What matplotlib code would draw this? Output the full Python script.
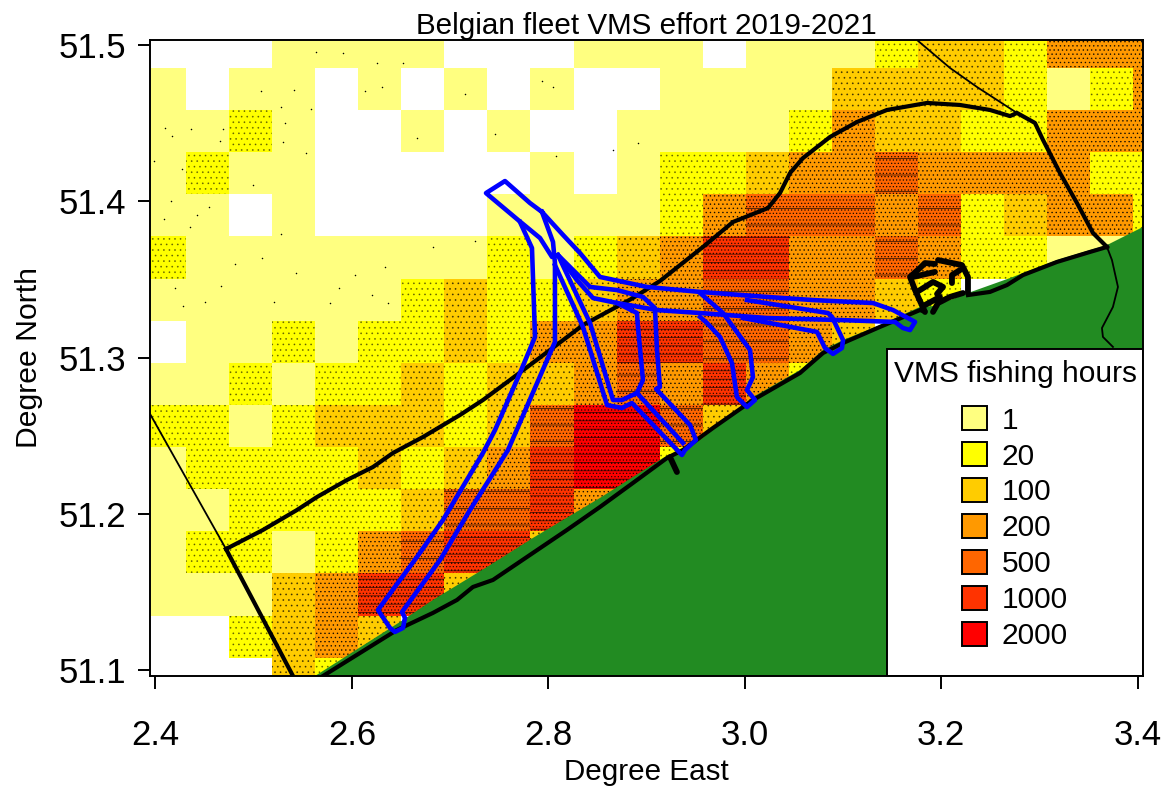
import matplotlib
matplotlib.use('Agg')
import matplotlib.pyplot as plt
from matplotlib.patches import Patch, Rectangle
import numpy as np

plt.rcParams['font.family'] = ['Liberation Sans', 'DejaVu Sans']
plt.rcParams['hatch.linewidth'] = 0.5

# effort class per grid cell, north to south: 0 none, 1..7 = legend classes
effort = [
    [0,0,0,1,1,1,1,0,0,0,1,1,1,0,1,1,1,2,3,3,2,4,4,4],
    [1,0,1,1,0,1,0,1,0,1,0,0,1,1,1,1,3,3,3,3,2,1,2,4],
    [1,1,2,1,0,0,1,0,1,0,0,1,1,1,1,2,4,3,3,2,2,4,4,4],
    [1,2,1,1,0,0,0,0,0,1,0,1,2,2,3,4,4,5,4,4,4,4,2,2],
    [1,1,0,1,0,0,0,0,1,1,1,1,2,4,5,5,5,4,5,2,3,4,4,2],
    [2,1,1,1,1,1,1,1,2,1,2,3,4,6,6,4,4,5,4,2,2,1,1,1],
    [1,1,1,1,1,1,2,3,2,2,3,4,4,5,5,4,4,3,2,0,0,0,0,0],
    [0,1,1,2,1,2,2,3,2,4,4,6,6,5,5,4,3,0,0,0,0,0,0,0],
    [1,1,2,1,2,2,3,2,3,3,4,5,4,6,4,2,0,0,0,0,0,0,0,0],
    [2,2,1,2,3,3,3,2,3,5,7,7,5,3,0,0,0,0,0,0,0,0,0,0],
    [1,2,2,2,2,3,2,3,4,6,7,7,2,0,0,0,0,0,0,0,0,0,0,0],
    [1,1,2,2,2,2,3,5,5,6,4,0,0,0,0,0,0,0,0,0,0,0,0,0],
    [1,2,2,1,2,4,5,6,6,3,0,0,0,0,0,0,0,0,0,0,0,0,0,0],
    [1,1,1,3,4,6,6,3,0,0,0,0,0,0,0,0,0,0,0,0,0,0,0,0],
    [0,0,2,3,4,3,0,0,0,0,0,0,0,0,0,0,0,0,0,0,0,0,0,0],
    [0,0,0,3,2,0,0,0,0,0,0,0,0,0,0,0,0,0,0,0,0,0,0,0],
]
legend_labels = ['1', '20', '100', '200', '500', '1000', '2000']
legend_colors = ['#FFFF80', '#FFFF00', '#FFCC00', '#FF9900', '#FF6600', '#FF3300', '#FF0000']

# land outline (north edge of the coast)
land_lon = [2.5624,2.6489,2.6825,2.7375,2.7843,2.8525,2.9167,2.9544,3.0083,3.0562,3.0796,3.1000,3.1376,3.1783,3.1936,3.2272,3.2700,3.2832,3.3178,3.3514,3.3687,3.4054,3.42,3.42]
land_lat = [51.0962,51.1308,51.1449,51.1660,51.1846,51.2102,51.2358,51.2473,51.2748,51.2921,51.3049,51.3113,51.3209,51.3325,51.3331,51.3414,51.3510,51.3542,51.3625,51.3689,51.3721,51.3837,51.39,51.09]

coast_w_lon = [2.5705,2.6459,2.6825,2.7070,2.7232,2.7436,2.7843,2.8189,2.8525,2.8861,2.9208,2.9370,2.9676,3.0083,3.0562,3.0796,3.1000,3.1376,3.1783,3.1834]
coast_w_lat = [51.0962,51.1257,51.1366,51.1449,51.1532,51.1577,51.1750,51.1897,51.2044,51.2198,51.2358,51.2409,51.2550,51.2729,51.2902,51.3030,51.3094,51.3197,51.3305,51.3293]
coast_e_lon = [3.2272,3.2496,3.2669,3.2832,3.3178,3.3514,3.3687]
coast_e_lat = [51.3401,51.3421,51.3465,51.3529,51.3613,51.3677,51.3709]

# 12 mile line, thick
limit_lon = [2.4718,2.5094,2.5441,2.5644,2.5950,2.6214,2.6418,2.6723,2.7100,2.7334,2.7609,2.8016,2.8352,2.8861,2.9136,2.9574,2.9880,3.0236,3.0358,3.0460,3.0592,3.0867,3.1142,3.1447,3.1855,3.2191,3.2496,3.2700,3.2771,3.2954,3.3036,3.3209,3.3382,3.3545,3.3687]
limit_lat = [51.1775,51.1897,51.2025,51.2108,51.2217,51.2300,51.2390,51.2492,51.2633,51.2729,51.2857,51.3049,51.3209,51.3382,51.3491,51.3709,51.3869,51.3958,51.4054,51.4182,51.4278,51.4413,51.4509,51.4586,51.4631,51.4618,51.4586,51.4547,51.4567,51.4503,51.4394,51.4182,51.3990,51.3798,51.3709]
west_lon = [2.4718,2.5400]
west_lat = [51.1775,51.0962]

# thin borders
border_w_lon = [2.3939,2.4718]
border_w_lat = [51.2646,51.1775]
border_n_lon = [3.1753,3.2089,3.2364,3.2771]
border_n_lat = [51.5034,51.4855,51.4733,51.4567]
border_l_lon = [3.3687,3.3738,3.3799,3.3748,3.3636,3.3646,3.3748]
border_l_lat = [51.3709,51.3625,51.3453,51.3325,51.3190,51.3133,51.3069]

# harbour works and small jetty
harbour = [
    ([3.1834,3.1733,3.1682,3.1783,3.1834,3.1936], [51.3293,51.3433,51.3517,51.3574,51.3606,51.3600]),
    ([3.1712,3.1936], [51.3517,51.3549]),
    ([3.1967,3.2211,3.2272,3.2272], [51.3625,51.3593,51.3517,51.3414]),
    ([3.2109,3.2109,3.2191], [51.3478,51.3529,51.3561]),
    ([3.1753,3.1916,3.2018,3.1957], [51.3421,51.3485,51.3453,51.3408]),
    ([3.1916,3.1967,3.2089,3.2221], [51.3293,51.3350,51.3389,51.3414]),
    ([3.1834,3.1987], [51.3337,51.3389]),
    ([2.9238,2.9309], [51.2364,51.2268]),
]

# dredging / disposal outline, one list per stroke
blue_paths = [
    ([2.7935,2.8149,2.8322,2.8525,2.9004,2.9544,3.0226,3.0694,3.1305,3.1509,3.1733,3.1682,3.1610,3.1529,3.0969,3.0226,2.9544,2.9106,2.8699,2.8454,2.8291,2.8098,2.8037,2.7915,2.7691,2.7365,2.7558,2.7813,2.7935],
     [51.3933,51.3786,51.3670,51.3517,51.3453,51.3421,51.3389,51.3369,51.3350,51.3305,51.3229,51.3177,51.3190,51.3229,51.3241,51.3254,51.3286,51.3305,51.3350,51.3382,51.3497,51.3657,51.3645,51.3766,51.3882,51.4054,51.4131,51.3990,51.3933]),
    ([2.8098,2.8424,2.8699,2.8963,2.9085,2.9106,2.9136,2.9096,2.9442,2.9503,2.9391,2.9360,2.8851,2.8749,2.8597,2.8352,2.8067],
     [51.3657,51.3453,51.3433,51.3389,51.3318,51.3049,51.2812,51.2800,51.2569,51.2473,51.2409,51.2377,51.2710,51.2678,51.2697,51.3197,51.3593]),
    ([2.8098,2.8424,2.8658,2.8749,2.8902,2.8963,2.8912,2.8902,2.8699],
     [51.3657,51.3222,51.2729,51.2729,51.2774,51.2857,51.3197,51.3286,51.3350]),
    ([2.8902,2.9370], [51.2774,51.2454]),
    ([2.9544,2.9778,3.0053,3.0083,3.0022,3.0104,3.0022,2.9920,2.9869,2.9747,2.9615,2.9544],
     [51.3414,51.3286,51.3049,51.2876,51.2793,51.2729,51.2684,51.2748,51.2966,51.3133,51.3222,51.3261]),
    ([3.0022,3.0847,3.0888,3.1000,3.0989,3.0898,3.0816,3.0735,2.9982],
     [51.3369,51.3286,51.3261,51.3113,51.3062,51.3024,51.3062,51.3165,51.3254]),
    ([2.7711,2.7833,2.7864,2.7711,2.7457,2.7334,2.6927,2.6662,2.6265,2.6387,2.6438,2.6520,2.6540,2.6510,2.6897,2.7202,2.7589,2.8067,2.8067,2.8047,2.7935],
     [51.3869,51.3702,51.3133,51.2902,51.2537,51.2390,51.1961,51.1724,51.1385,51.1270,51.1244,51.1270,51.1334,51.1372,51.1705,51.2025,51.2409,51.3101,51.3606,51.3741,51.3933]),
]

# isolated VMS pings
ping_lon = [2.5630,2.5912,2.6258,2.6523,2.5071,2.5413,2.5278,2.5580,2.6136,2.6302,2.7151,2.7931,2.8043,2.4097,2.4164,2.4361,2.4690,2.4657,2.5318,2.5301,2.5529,2.3988,2.4266,2.4989,2.4154,2.4419,2.4086,2.4351,2.4548,2.5274,2.6659,2.7456,2.8077,2.8909,2.8654,2.7253,2.6822,2.6336,2.6031,2.5427,2.5087,2.4809,2.4198,2.4663,2.4283,2.4504,2.5210,2.5871,2.6201,2.5776,2.6370]
ping_lat = [51.4959,51.4949,51.4889,51.4889,51.4708,51.4714,51.4603,51.4590,51.4708,51.4731,51.4688,51.4771,51.4731,51.4468,51.4419,51.4462,51.4462,51.4387,51.4500,51.4383,51.4308,51.4259,51.4206,51.4106,51.4005,51.3914,51.3888,51.3839,51.3967,51.3790,51.4404,51.4432,51.4291,51.4372,51.4330,51.3749,51.3711,51.3579,51.3530,51.3544,51.3640,51.3598,51.3448,51.3459,51.3331,51.3359,51.3359,51.3444,51.3402,51.3348,51.3348]

# the dense VMS pings are not drawn one by one: a hatch per effort class stands in for them
hatches = [None, None, '...', '...', '....', '.....-', '.....--', '.....--']
hatch_alpha = [0, 0, 0.45, 0.6, 0.85, 0.9, 0.8, 0.8]

fig = plt.figure(figsize=(11.63, 7.89), dpi=100)
ax = fig.add_axes([149.5 / 1163, 113 / 789, 993.5 / 1163, 636 / 789])

lon_edges = 2.3873 + 0.04383 * np.arange(25)
lat_edges = 51.5125 - 0.02697 * np.arange(17)

for r, row in enumerate(effort):
    for c, level in enumerate(row):
        if level > 0:
            ax.bar(lon_edges[c], lat_edges[r + 1] - lat_edges[r], bottom=lat_edges[r],
                   width=0.04383, align='edge', color=legend_colors[level - 1],
                   hatch=hatches[level], edgecolor=(0, 0, 0, hatch_alpha[level]),
                   linewidth=0, antialiased=False, zorder=1)

ax.scatter(ping_lon, ping_lat, s=1.2, c='black', linewidths=0, zorder=2)

ax.fill(land_lon, land_lat, color='#228B22', linewidth=0, zorder=3)

for lons, lats in [(coast_w_lon, coast_w_lat), (coast_e_lon, coast_e_lat), (limit_lon, limit_lat), (west_lon, west_lat)]:
    ax.plot(lons, lats, color='black', lw=3.0, solid_joinstyle='round', zorder=4)
for lons, lats in [(border_w_lon, border_w_lat), (border_n_lon, border_n_lat), (border_l_lon, border_l_lat)]:
    ax.plot(lons, lats, color='black', lw=1.3, zorder=4)
for lons, lats in harbour:
    ax.plot(lons, lats, color='black', lw=4.2, solid_capstyle='round', zorder=4)
for lons, lats in blue_paths:
    ax.plot(lons, lats, color='#0000FF', lw=3.3, solid_joinstyle='round', zorder=5)

ax.set_xlim(2.3939, 3.4054)
ax.set_ylim(51.0962, 51.5034)
ax.set_xticks([2.4, 2.6, 2.8, 3.0, 3.2, 3.4])
ax.set_yticks([51.1, 51.2, 51.3, 51.4, 51.5])
ax.set_xticklabels(['2.4', '2.6', '2.8', '3.0', '3.2', '3.4'])
ax.set_yticklabels(['51.1', '51.2', '51.3', '51.4', '51.5'])
ax.tick_params(axis='both', labelsize=25, length=9, width=1.4)
ax.tick_params(axis='x', pad=22)
ax.tick_params(axis='y', pad=8)
for s in ax.spines.values():
    s.set_linewidth(1.4)
    s.set_zorder(10)

ax.set_title('Belgian fleet VMS effort 2019-2021', fontsize=21.3, pad=2)
ax.set_xlabel('Degree East', fontsize=21.3, labelpad=4)
ax.set_ylabel('Degree North', fontsize=21.7, labelpad=11)

# legend box
ax.add_patch(Rectangle((3.1447, 51.0962), 0.2607, 0.2094, facecolor='white', edgecolor='black',
                       linewidth=1.4, zorder=7))

handles = [Patch(facecolor=col, edgecolor='black', linewidth=1.4, label=lab)
           for col, lab in zip(legend_colors, legend_labels)]
leg = ax.legend(handles=handles, title='VMS fishing hours', title_fontsize=21.5, fontsize=21.5,
                loc='upper center', bbox_to_anchor=(3.2751, 51.3040), bbox_transform=ax.transData,
                borderaxespad=0, frameon=False, handlelength=0.84, handleheight=0.84,
                handletextpad=0.5, labelspacing=0.26, borderpad=0.3)
leg._legend_box.sep = 13
leg.set_zorder(8)

fig.savefig('out.png', dpi=100)
